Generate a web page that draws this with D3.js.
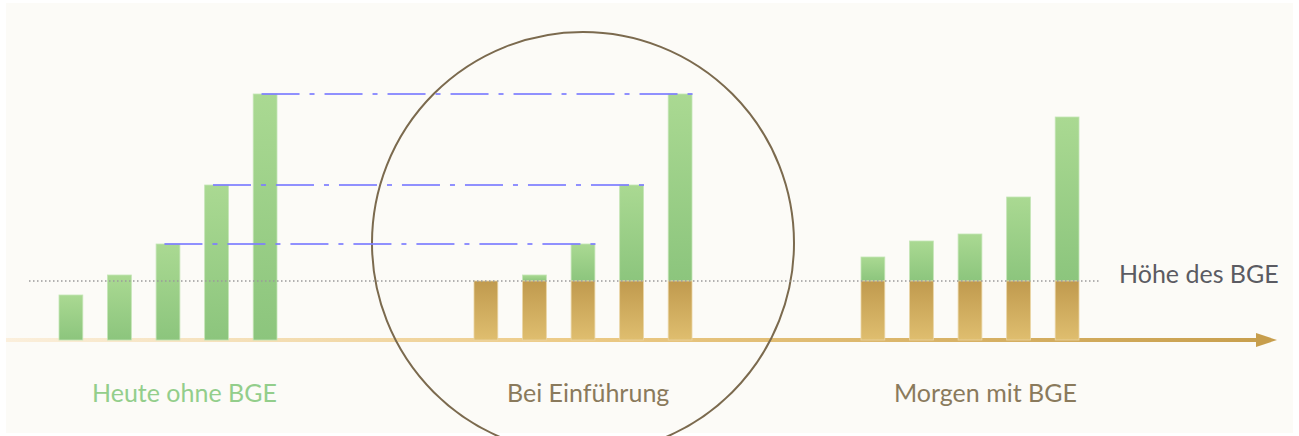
<!DOCTYPE html>
<html>
<head>
<meta charset="utf-8">
<script src="https://cdn.jsdelivr.net/npm/d3@7"></script>
<style>
  body { margin: 0; background: #ffffff; }
  svg { display: block; }
</style>
</head>
<body>
<div id="chart"></div>
<script>
// data
var groups = ["Heute ohne BGE", "Bei Einführung", "Morgen mit BGE"];
var persons = [0, 1, 2, 3, 4];
var heute = [45, 65, 96, 155, 246];
var einfuehrung = [45, 65, 96, 155, 246];
var morgen = [83, 99, 106, 143, 223];
var bge = 59;
var bgeLabel = "Höhe des BGE";
var guides = [2, 3, 4]; // which bars get the dash-dot line

var w = 1299, h = 436;
var baseY = 340;

var svg = d3.select("#chart").append("svg")
  .attr("width", w)
  .attr("height", h);

var defs = svg.append("defs");

function vgrad(id, top, bottom) {
  var g = defs.append("linearGradient").attr("id", id)
    .attr("x1", 0).attr("y1", 0).attr("x2", 0).attr("y2", 1);
  g.append("stop").attr("offset", "0%").attr("stop-color", top);
  g.append("stop").attr("offset", "100%").attr("stop-color", bottom);
}
vgrad("green", "#aad992", "#8cc57d");
vgrad("gold", "#c09a4e", "#dfbe6f");

var axisGrad = defs.append("linearGradient").attr("id", "axisGrad")
  .attr("gradientUnits", "userSpaceOnUse")
  .attr("x1", 6).attr("y1", 0).attr("x2", 1277).attr("y2", 0);
axisGrad.append("stop").attr("offset", "0%").attr("stop-color", "#fbefdc");
axisGrad.append("stop").attr("offset", "45%").attr("stop-color", "#ecca85");
axisGrad.append("stop").attr("offset", "100%").attr("stop-color", "#c79e4c");

// background panel
svg.append("rect")
  .attr("x", 6).attr("y", 3)
  .attr("width", 1287).attr("height", 430)
  .attr("fill", "#fcfbf7");

// scales
var y = d3.scaleLinear().domain([0, 250]).range([baseY, baseY - 250]);
var groupX = d3.scaleOrdinal().domain(groups).range([59, 474, 861]);
var x = d3.scaleBand().domain(persons).range([0, 218]).paddingInner(0.51);
var bw = x.bandwidth();

// axis line with arrow
svg.append("rect")
  .attr("x", 6).attr("y", baseY - 2)
  .attr("width", 1255).attr("height", 4)
  .attr("fill", "url(#axisGrad)");
svg.append("path")
  .attr("d", "M1256," + (baseY - 7) + " L1277," + baseY + " L1256," + (baseY + 7) + " Z")
  .attr("fill", "#c79e4c");

// circle around "Bei Einführung"
svg.append("circle")
  .attr("cx", 583).attr("cy", 243).attr("r", 211)
  .attr("fill", "none")
  .attr("stroke", "#7b6a4e")
  .attr("stroke-width", 2);

// group 1: green only
var g1 = svg.append("g").attr("transform", "translate(" + groupX(groups[0]) + ",0)");
g1.selectAll("rect")
  .data(heute)
  .enter()
  .append("rect")
  .attr("x", (d, i) => x(i))
  .attr("y", (d) => y(d))
  .attr("width", bw)
  .attr("height", (d) => y(0) - y(d))
  .attr("fill", "url(#green)")
  .attr("stroke", "#c4e5b6")
  .attr("stroke-width", 0.8);

// stacked groups: gold up to BGE, green above
function stacked(name, values) {
  var g = svg.append("g").attr("transform", "translate(" + groupX(name) + ",0)");
  g.selectAll("rect.top")
    .data(values.filter((d) => d > bge).map((d) => ({ v: d, i: values.indexOf(d) })))
    .enter()
    .append("rect")
    .attr("class", "top")
    .attr("x", (d) => x(d.i))
    .attr("y", (d) => y(d.v))
    .attr("width", bw)
    .attr("height", (d) => y(bge) - y(d.v))
    .attr("fill", "url(#green)")
    .attr("stroke", "#c4e5b6")
    .attr("stroke-width", 0.8);
  g.selectAll("rect.base")
    .data(values)
    .enter()
    .append("rect")
    .attr("class", "base")
    .attr("x", (d, i) => x(i))
    .attr("y", y(bge))
    .attr("width", bw)
    .attr("height", y(0) - y(bge))
    .attr("fill", "url(#gold)")
    .attr("stroke", "#ead5a4")
    .attr("stroke-width", 0.8);
}
stacked(groups[1], einfuehrung);
stacked(groups[2], morgen);

// BGE level dotted line
svg.append("line")
  .attr("x1", 29).attr("x2", 1101)
  .attr("y1", y(bge)).attr("y2", y(bge))
  .attr("stroke", "#9b9b9b")
  .attr("stroke-width", 1.5)
  .attr("stroke-dasharray", "1.5,2.5");

// dash-dot guides from today to introduction
svg.selectAll("line.guide")
  .data(guides)
  .enter()
  .append("line")
  .attr("class", "guide")
  .attr("x1", (i) => groupX(groups[0]) + x(i) + bw * 0.35)
  .attr("x2", (i) => groupX(groups[1]) + x(i) + bw + 3)
  .attr("y1", (i) => y(heute[i]))
  .attr("y2", (i) => y(heute[i]))
  .attr("stroke", "#7d7dff")
  .attr("stroke-opacity", 0.85)
  .attr("stroke-width", 2)
  .attr("stroke-dasharray", "38,10,5,10");

// labels
var labelColors = ["#93ce8b", "#8a7a5c", "#8a7a5c"];
svg.selectAll("text.group")
  .data(groups)
  .enter()
  .append("text")
  .attr("class", "group")
  .text((d) => d)
  .attr("x", (d) => groupX(d) + 33)
  .attr("y", 402)
  .attr("fill", (d, i) => labelColors[i])
  .attr("font-family", "Lato, 'Noto Sans', sans-serif")
  .attr("font-size", 25);

svg.append("text")
  .text(bgeLabel)
  .attr("x", 1119)
  .attr("y", 283)
  .attr("fill", "#5b5b62")
  .attr("font-family", "Lato, 'Noto Sans', sans-serif")
  .attr("font-size", 25);
</script>
</body>
</html>
